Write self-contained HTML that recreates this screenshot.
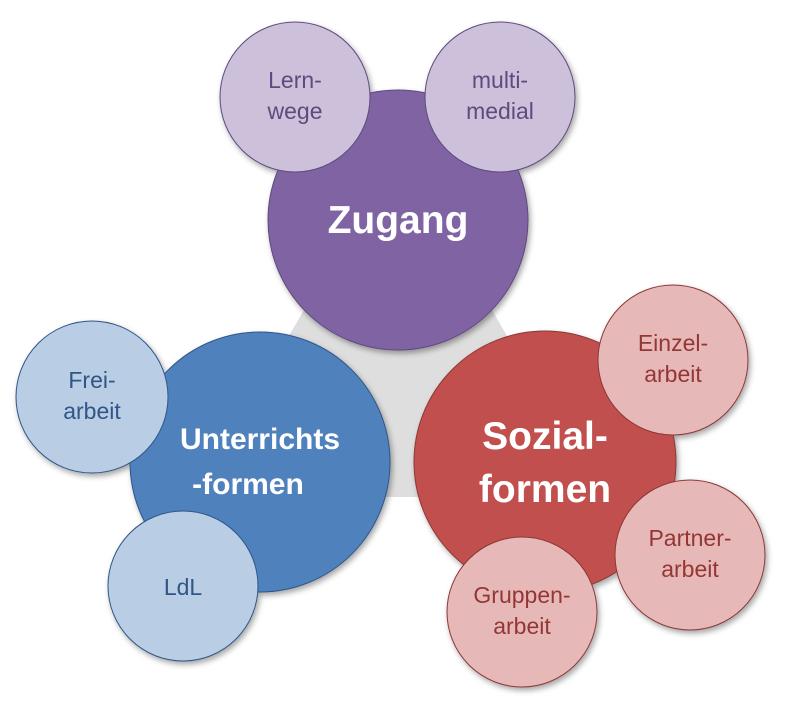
<!DOCTYPE html>
<html><head><style>
body{margin:0;background:#fff;}
svg text{font-family:"Liberation Sans",sans-serif;text-anchor:middle;}
</style></head><body>
<svg width="785" height="698" viewBox="0 0 785 698" xmlns="http://www.w3.org/2000/svg">
<defs>
<filter id="sh" x="-20%" y="-20%" width="140%" height="140%">
<feDropShadow dx="2" dy="3" stdDeviation="3" flood-color="#000" flood-opacity="0.35"/>
</filter>
</defs>
<polygon points="398,147 196,497 600,497" fill="#dedede"/>
<g filter="url(#sh)">
<circle cx="398" cy="220" r="130" fill="#8064a2" stroke="#5f4a7e" stroke-width="1"/>
<circle cx="295" cy="97" r="75" fill="#ccc0da" stroke="#5f4a7e" stroke-width="1"/>
<circle cx="500" cy="97" r="75" fill="#ccc0da" stroke="#5f4a7e" stroke-width="1"/>
<circle cx="260" cy="462" r="130" fill="#4f81bd" stroke="#2f5687" stroke-width="1"/>
<circle cx="92" cy="397" r="76" fill="#b9cde5" stroke="#2f5687" stroke-width="1"/>
<circle cx="183" cy="586" r="75" fill="#b9cde5" stroke="#2f5687" stroke-width="1"/>
<circle cx="545" cy="462" r="131" fill="#c0504d" stroke="#8c3836" stroke-width="1"/>
<circle cx="673" cy="360" r="75" fill="#e6b9b8" stroke="#8c3836" stroke-width="1"/>
<circle cx="690" cy="555" r="75" fill="#e6b9b8" stroke="#8c3836" stroke-width="1"/>
<circle cx="522" cy="612" r="75" fill="#e6b9b8" stroke="#8c3836" stroke-width="1"/>
</g>
<g font-size="23">
<text x="295" y="88" fill="#5f4a7e">Lern-</text><text x="295" y="119" fill="#5f4a7e">wege</text>
<text x="500" y="88" fill="#5f4a7e">multi-</text><text x="500" y="119" fill="#5f4a7e">medial</text>
<text x="92" y="388" fill="#2f5687">Frei-</text><text x="92" y="419" fill="#2f5687">arbeit</text>
<text x="183" y="595" fill="#2f5687">LdL</text>
<text x="673" y="351" fill="#943634">Einzel-</text><text x="673" y="382" fill="#943634">arbeit</text>
<text x="690" y="546" fill="#943634">Partner-</text><text x="690" y="577" fill="#943634">arbeit</text>
<text x="522" y="603" fill="#943634">Gruppen-</text><text x="522" y="634" fill="#943634">arbeit</text>
</g>
<g font-weight="bold" fill="#fff">
<text x="398" y="233" font-size="39">Zugang</text>
<text x="260" y="449" font-size="30">Unterrichts</text>
<text x="248" y="494" font-size="30">-formen</text>
<text x="545" y="449" font-size="39">Sozial-</text>
<text x="545" y="502" font-size="39">formen</text>
</g>
</svg>
</body></html>
